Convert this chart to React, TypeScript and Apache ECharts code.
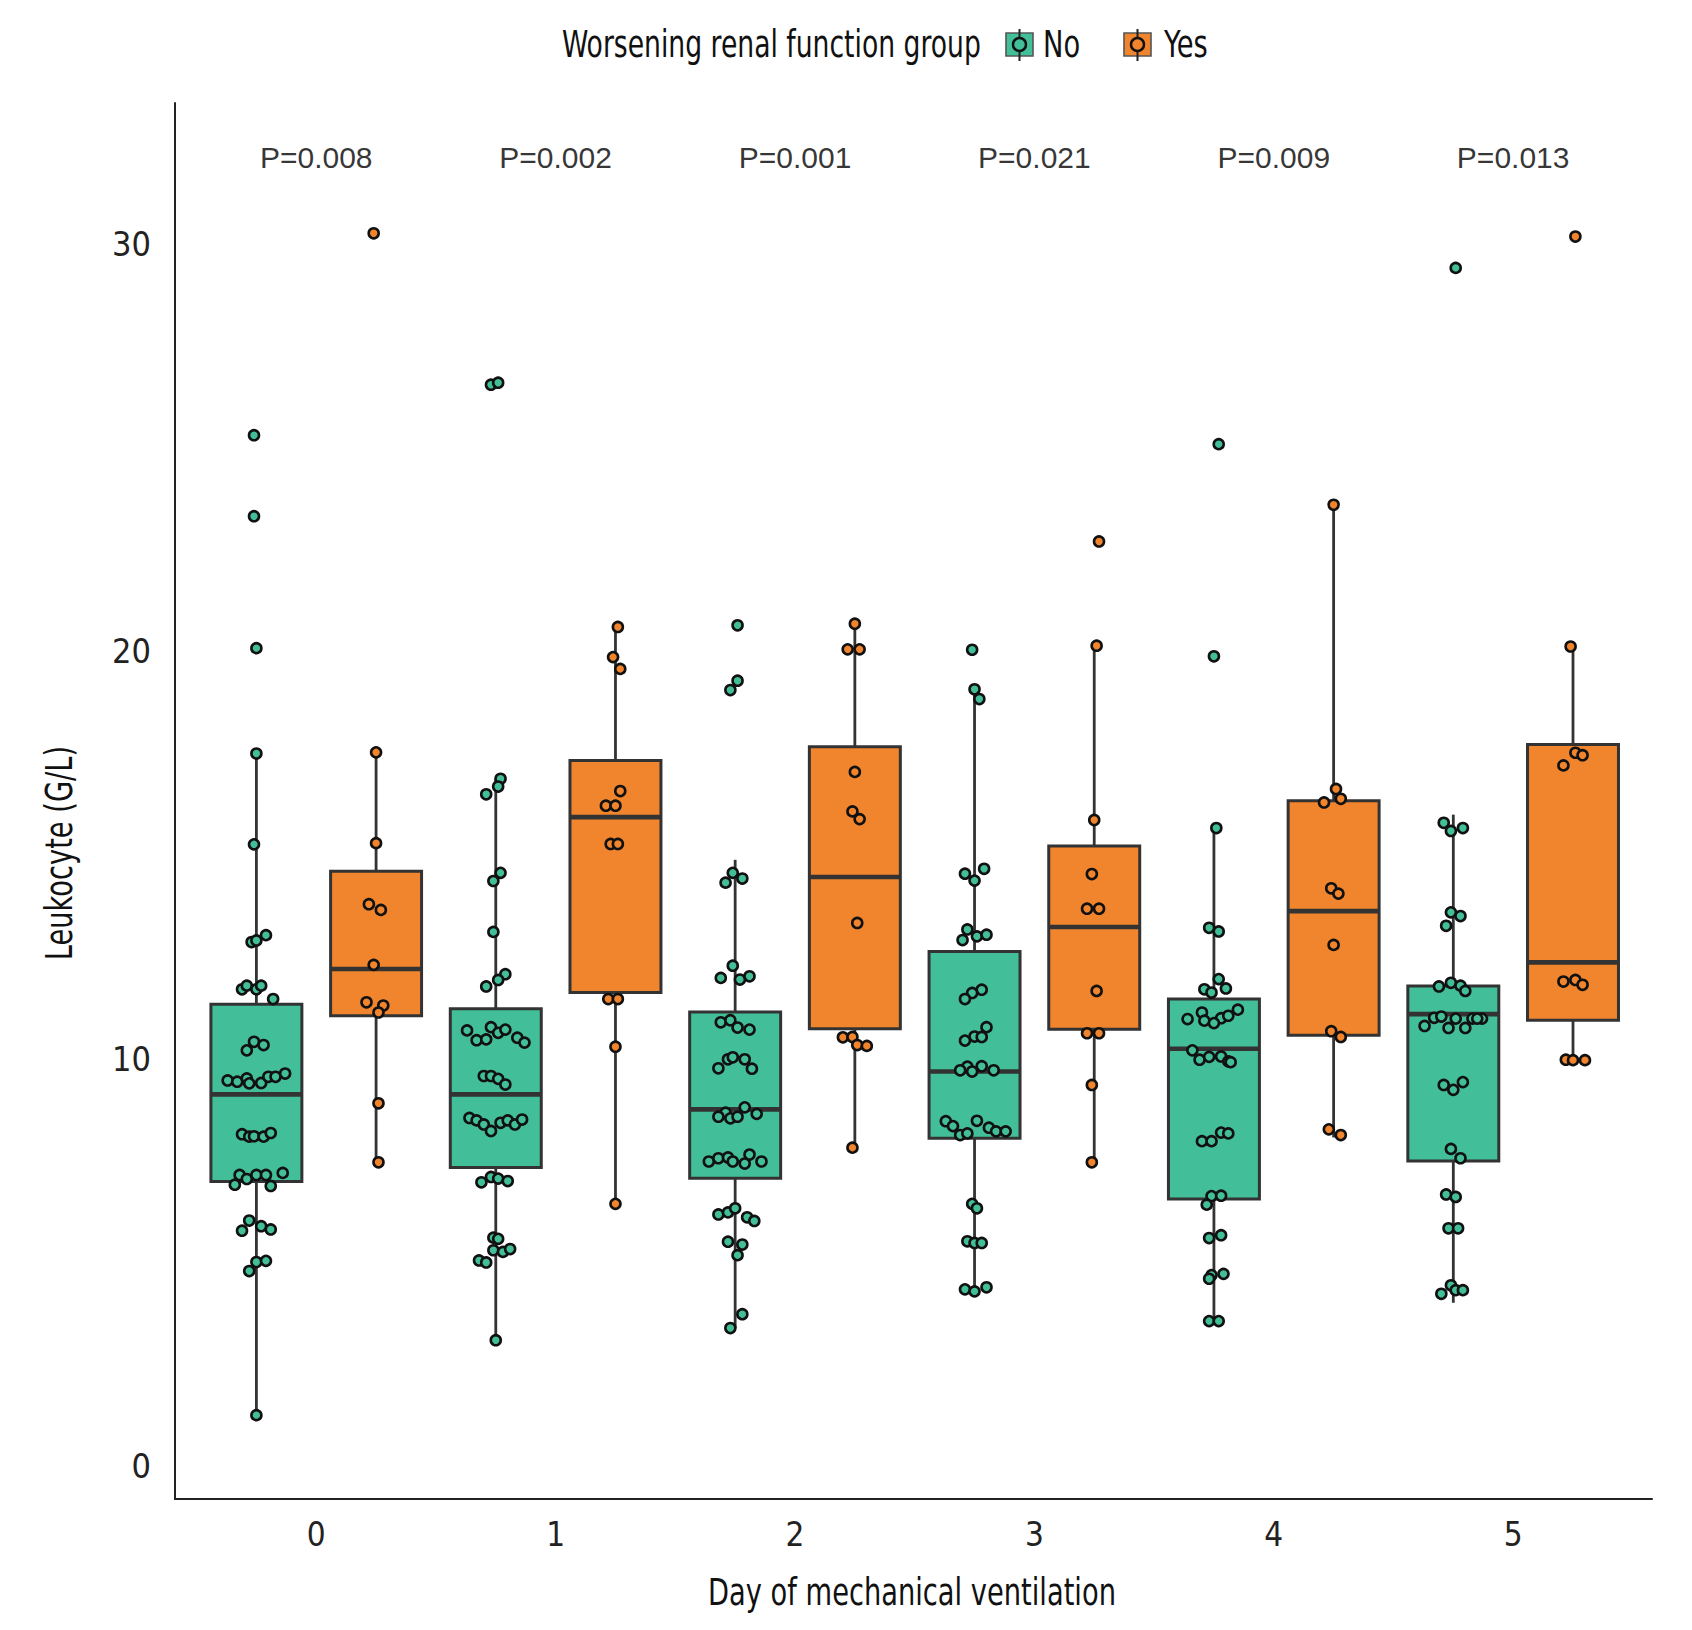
import React, { useEffect, useRef } from "react";
import * as echarts from "echarts";

const dayLabels = ["0", "1", "2", "3", "4", "5"];
const pValues = ["P=0.008", "P=0.002", "P=0.001", "P=0.021", "P=0.009", "P=0.013"];
const pLabelLevel = 32.12;

// [min, Q1, median, Q3, max] per day
const boxNo = [
  [1.24, 6.98, 9.12, 11.33, 17.49],
  [3.08, 7.32, 9.12, 11.22, 16.87],
  [3.38, 7.06, 8.75, 11.14, 14.88],
  [4.28, 8.04, 9.68, 12.63, 19.07],
  [3.5, 6.55, 10.24, 11.46, 15.66],
  [4.0, 7.48, 11.09, 11.78, 15.99],
];
const boxYes = [
  [7.45, 11.05, 12.2, 14.6, 17.52],
  [6.43, 11.62, 15.93, 17.32, 20.6],
  [7.81, 10.73, 14.46, 17.66, 20.68],
  [7.45, 10.72, 13.23, 15.22, 20.14],
  [8.06, 10.57, 13.62, 16.33, 23.6],
  [9.96, 10.94, 12.36, 17.71, 20.12],
];

// jittered observations: [jitter (category units), value]
const noDay0 = [
  [-0.01, 25.31], [-0.01, 23.32], [0.0, 20.08], [0, 17.49], [-0.01, 15.26],
  [-0.02, 12.86], [0, 12.9], [0.04, 13.03], [-0.06, 11.7], [-0.04, 11.79], [0, 11.7], [0.02, 11.79], [0.07, 11.46],
  [-0.04, 10.2], [-0.01, 10.41], [0.03, 10.33],
  [-0.12, 9.46], [-0.08, 9.43], [-0.04, 9.51], [-0.03, 9.39], [0.02, 9.4], [0.05, 9.55], [0.08, 9.55], [0.12, 9.63],
  [-0.06, 8.14], [-0.03, 8.08], [-0.01, 8.09], [0.03, 8.08], [0.06, 8.17],
  [-0.07, 7.14], [-0.04, 7.04], [0.0, 7.14], [0.04, 7.14], [0.11, 7.19], [-0.09, 6.9], [0.06, 6.87],
  [-0.03, 6.02], [-0.06, 5.77], [0.02, 5.88], [0.06, 5.8],
  [0.0, 5.0], [0.04, 5.03], [-0.03, 4.78], [0.0, 1.24],
];
const noDay1 = [
  [-0.02, 26.55], [0.01, 26.6],
  [0.02, 16.87], [0.01, 16.68], [-0.04, 16.49], [0.02, 14.56], [-0.01, 14.36], [-0.01, 13.11],
  [0.04, 12.07], [0.01, 11.93], [-0.04, 11.77],
  [-0.12, 10.69], [-0.08, 10.45], [-0.04, 10.47], [-0.02, 10.77], [0.01, 10.63], [0.04, 10.71], [0.09, 10.51], [0.12, 10.39],
  [-0.05, 9.57], [-0.02, 9.57], [0.01, 9.5], [0.04, 9.36],
  [-0.11, 8.54], [-0.08, 8.48], [-0.05, 8.38], [-0.02, 8.22], [0.02, 8.42], [0.05, 8.48], [0.08, 8.38], [0.11, 8.5],
  [-0.02, 7.09], [0.01, 7.05], [0.05, 6.99], [-0.06, 6.96],
  [-0.01, 5.6], [0.01, 5.57], [-0.01, 5.29], [0.03, 5.25], [0.06, 5.32], [-0.07, 5.04], [-0.04, 4.99],
  [0, 3.08],
];
const noDay2 = [
  [0.01, 20.64], [0.01, 19.28], [-0.02, 19.05],
  [-0.01, 14.56], [-0.04, 14.32], [0.03, 14.42],
  [-0.01, 12.28], [-0.06, 11.98], [0.02, 11.94], [0.06, 12.02],
  [-0.06, 10.89], [-0.02, 10.94], [0.01, 10.76], [0.06, 10.71],
  [-0.03, 9.98], [-0.01, 10.03], [0.04, 9.98], [-0.07, 9.76], [0.07, 9.75],
  [0.04, 8.8], [-0.04, 8.67], [-0.07, 8.57], [-0.02, 8.53], [0.01, 8.57], [0.09, 8.64],
  [-0.11, 7.47], [-0.07, 7.55], [-0.03, 7.57], [-0.01, 7.47], [0.04, 7.42], [0.06, 7.64], [0.11, 7.47],
  [-0.07, 6.17], [-0.03, 6.22], [0, 6.32], [0.05, 6.1], [0.08, 6.01],
  [-0.03, 5.5], [0.03, 5.43], [0.01, 5.17],
  [0.03, 3.72], [-0.02, 3.38],
];
const noDay3 = [
  [-0.01, 20.04], [0.0, 19.07], [0.02, 18.83],
  [-0.04, 14.54], [0.04, 14.66], [0, 14.37],
  [-0.03, 13.17], [0.01, 13.0], [0.05, 13.04], [-0.05, 12.91],
  [0.03, 11.69], [-0.01, 11.61], [-0.04, 11.46],
  [0.05, 10.77], [0.0, 10.54], [0.03, 10.53], [-0.04, 10.44],
  [-0.03, 9.8], [0.03, 9.81], [-0.06, 9.71], [-0.01, 9.68], [0.08, 9.71],
  [-0.12, 8.46], [-0.09, 8.34], [0.01, 8.47], [-0.06, 8.12], [-0.03, 8.16], [0.06, 8.3], [0.09, 8.21], [0.13, 8.21],
  [-0.01, 6.43], [0.01, 6.32],
  [-0.03, 5.51], [0.0, 5.47], [0.03, 5.47],
  [-0.04, 4.33], [0, 4.28], [0.05, 4.38],
];
const noDay4 = [
  [0.02, 25.09], [0, 19.88], [0.01, 15.66],
  [-0.02, 13.21], [0.02, 13.12],
  [0.02, 11.95], [-0.04, 11.7], [-0.01, 11.62], [0.05, 11.72],
  [0.1, 11.2], [-0.05, 11.13], [-0.11, 10.97], [-0.04, 10.93], [0.03, 10.99], [0, 10.87], [0.06, 11.05],
  [-0.09, 10.2], [-0.06, 9.97], [-0.02, 10.04], [0.03, 10.05], [0.06, 9.93], [0.07, 9.91],
  [0.03, 8.18], [0.06, 8.16], [-0.05, 7.97], [-0.01, 7.97],
  [-0.01, 6.62], [0.03, 6.63], [-0.03, 6.41],
  [0.03, 5.66], [-0.02, 5.59],
  [-0.01, 4.68], [0.04, 4.71], [-0.02, 4.59],
  [-0.02, 3.55], [0.02, 3.55],
];
const noDay5 = [
  [0.01, 29.42],
  [-0.04, 15.79], [-0.01, 15.59], [0.04, 15.66],
  [-0.01, 13.59], [0.03, 13.5], [-0.03, 13.26],
  [-0.01, 11.86], [-0.06, 11.77], [0.03, 11.79], [0.05, 11.66],
  [-0.08, 11.0], [-0.05, 11.03], [0.01, 10.98], [0.08, 10.98], [0.12, 10.98], [-0.12, 10.8], [-0.02, 10.75], [0.05, 10.75], [0.1, 10.98],
  [-0.04, 9.35], [0, 9.23], [0.04, 9.42],
  [-0.01, 7.78], [0.03, 7.55],
  [-0.03, 6.66], [0.01, 6.6],
  [-0.02, 5.83], [0.02, 5.83],
  [-0.01, 4.43], [0.01, 4.31], [0.04, 4.31], [-0.05, 4.22],
];
const yesDay0 = [
  [-0.01, 30.27], [0, 17.52], [0, 15.29], [-0.03, 13.79], [0.02, 13.65], [-0.01, 12.3],
  [-0.04, 11.38], [0.03, 11.3], [0.01, 11.13], [0.01, 8.9], [0.01, 7.45],
];
const yesDay1 = [
  [0.01, 20.6], [-0.01, 19.86], [0.02, 19.57], [0.02, 16.57], [-0.04, 16.21], [0, 16.21],
  [-0.02, 15.27], [0.01, 15.27], [-0.03, 11.46], [0.01, 11.46], [0, 10.29], [0, 6.43],
];
const yesDay2 = [
  [0, 20.68], [-0.03, 20.05], [0.02, 20.05], [0, 17.04], [-0.01, 16.07], [0.02, 15.88],
  [0.01, 13.33], [-0.05, 10.52], [-0.01, 10.53], [0.01, 10.33], [0.05, 10.31], [-0.01, 7.81],
];
const yesDay3 = [
  [0.02, 22.7], [0.01, 20.14], [0, 15.86], [-0.01, 14.53], [-0.03, 13.68], [0.02, 13.68],
  [0.01, 11.66], [-0.03, 10.62], [0.02, 10.62], [-0.01, 9.35], [-0.01, 7.45],
];
const yesDay4 = [
  [0, 23.6], [0.01, 16.62], [-0.04, 16.29], [0.03, 16.38], [-0.01, 14.18], [0.02, 14.05],
  [0, 12.79], [-0.01, 10.67], [0.03, 10.53], [-0.02, 8.26], [0.03, 8.12],
];
const yesDay5 = [
  [0.01, 30.19], [-0.01, 20.12], [0.01, 17.51], [0.04, 17.45], [-0.04, 17.2],
  [-0.04, 11.89], [0.01, 11.93], [0.04, 11.81], [-0.03, 9.97], [0, 9.96], [0.05, 9.96],
];

const noPoints = [noDay0, noDay1, noDay2, noDay3, noDay4, noDay5];
const yesPoints = [yesDay0, yesDay1, yesDay2, yesDay3, yesDay4, yesDay5];

const GREEN = "#42BF98";
const ORANGE = "#F1852D";
const DARK = "#333333";
const NARROW = "'Liberation Sans Narrow', 'DejaVu Sans Condensed', 'Noto Sans', sans-serif";
const REGULAR = "'Liberation Sans', Arial, 'Noto Sans', sans-serif";
const SQUEEZE = 0.82;

const DODGE = 0.25;
const HALF_BOX = 0.19;

function boxRenderer(color: string) {
  return (params: any, api: any) => {
    const x = api.value(0);
    const mn = api.value(1);
    const q1 = api.value(2);
    const md = api.value(3);
    const q3 = api.value(4);
    const mx = api.value(5);
    const pTL = api.coord([x - HALF_BOX, q3]);
    const pBR = api.coord([x + HALF_BOX, q1]);
    const pMin = api.coord([x, mn]);
    const pMax = api.coord([x, mx]);
    const pMedL = api.coord([x - HALF_BOX, md]);
    const pMedR = api.coord([x + HALF_BOX, md]);
    const lineStyle = { stroke: DARK, lineWidth: 2.8 };
    return {
      type: "group",
      children: [
        { type: "line", shape: { x1: pMax[0], y1: pMax[1], x2: pMax[0], y2: pTL[1] }, style: lineStyle },
        { type: "line", shape: { x1: pMin[0], y1: pBR[1], x2: pMin[0], y2: pMin[1] }, style: lineStyle },
        {
          type: "rect",
          shape: { x: pTL[0], y: pTL[1], width: pBR[0] - pTL[0], height: pBR[1] - pTL[1] },
          style: { fill: color, stroke: DARK, lineWidth: 3 },
        },
        { type: "line", shape: { x1: pMedL[0], y1: pMedL[1], x2: pMedR[0], y2: pMedR[1] }, style: { stroke: DARK, lineWidth: 4.6 } },
      ],
    };
  };
}

function legendKey(x: number, color: string) {
  return {
    type: "group",
    children: [
      { type: "rect", shape: { x, y: 33, width: 27, height: 23 }, style: { fill: color, stroke: "#555", lineWidth: 1.6 } },
      { type: "line", shape: { x1: x + 13.5, y1: 29, x2: x + 13.5, y2: 61 }, style: { stroke: "#222", lineWidth: 2 } },
      { type: "circle", shape: { cx: x + 13.5, cy: 44.5, r: 6.5 }, style: { fill: color, stroke: "#111", lineWidth: 2.4 } },
    ],
  };
}

function narrowText(text: string, x: number, y: number, size: number, align: string, rotation = 0, squeeze = SQUEEZE) {
  return {
    type: "text",
    x,
    y,
    rotation,
    scaleX: squeeze,
    style: { text, fontFamily: NARROW, fontSize: size, fill: "#111", align, verticalAlign: "middle" },
  };
}

export default function App() {
  const ref = useRef<HTMLDivElement>(null);
  useEffect(() => {
    if (!ref.current) return;
    const chart = echarts.init(ref.current, undefined, { renderer: "svg" });

    const boxDataNo = boxNo.map((b, d) => [d - DODGE, ...b]);
    const boxDataYes = boxYes.map((b, d) => [d + DODGE, ...b]);
    const ptsNo = noPoints.flatMap((pts, d) => pts.map(([j, v]) => [d - DODGE + j, v]));
    const ptsYes = yesPoints.flatMap((pts, d) => pts.map(([j, v]) => [d + DODGE + j, v]));
    const pData = pValues.map((_, d) => [d, pLabelLevel]);

    chart.setOption({
      animation: false,
      backgroundColor: "#ffffff",
      grid: { left: 175, right: 40, top: 103, bottom: 131, containLabel: false },
      xAxis: {
        type: "value",
        min: -0.59,
        max: 5.58,
        axisLine: { show: true, onZero: false, lineStyle: { color: "#222", width: 2 } },
        axisTick: { show: false },
        splitLine: { show: false },
        axisLabel: {
          customValues: [0, 1, 2, 3, 4, 5],
          formatter: (v: number) => dayLabels[Math.round(v)],
          fontFamily: NARROW,
          fontSize: 33,
          color: "#222",
          margin: 19,
        },
      },
      yAxis: {
        type: "value",
        min: -0.82,
        max: 33.47,
        axisLine: { show: true, onZero: false, lineStyle: { color: "#222", width: 2 } },
        axisTick: { show: false },
        splitLine: { show: false },
        axisLabel: {
          customValues: [0, 10, 20, 30],
          formatter: (v: number) => String(Math.round(v)),
          fontFamily: NARROW,
          fontSize: 34,
          color: "#222",
          margin: 24,
        },
      },
      graphic: [
        narrowText("Worsening renal function group", 562, 44, 37, "left", 0, 0.8),
        legendKey(1006, GREEN),
        narrowText("No", 1043, 44, 37, "left"),
        legendKey(1124, ORANGE),
        narrowText("Yes", 1164, 44, 37, "left"),
        narrowText("Leukocyte (G/L)", 59, 853, 37, "center", Math.PI / 2),
        narrowText("Day of mechanical ventilation", 912, 1592, 37, "center"),
      ],
      series: [
        {
          type: "custom",
          name: "No",
          renderItem: boxRenderer(GREEN),
          data: boxDataNo,
          encode: { x: 0, y: [1, 2, 3, 4, 5] },
          z: 2,
          silent: true,
        },
        {
          type: "custom",
          name: "Yes",
          renderItem: boxRenderer(ORANGE),
          data: boxDataYes,
          encode: { x: 0, y: [1, 2, 3, 4, 5] },
          z: 2,
          silent: true,
        },
        {
          type: "scatter",
          name: "No points",
          data: ptsNo,
          symbol: "circle",
          symbolSize: 10,
          itemStyle: { color: GREEN, borderColor: "#111", borderWidth: 2.6, opacity: 1 },
          z: 5,
          silent: true,
        },
        {
          type: "scatter",
          name: "Yes points",
          data: ptsYes,
          symbol: "circle",
          symbolSize: 10,
          itemStyle: { color: ORANGE, borderColor: "#111", borderWidth: 2.6, opacity: 1 },
          z: 5,
          silent: true,
        },
        {
          type: "scatter",
          name: "P values",
          data: pData,
          symbolSize: 0,
          silent: true,
          label: {
            show: true,
            position: "inside",
            formatter: (p: any) => pValues[p.dataIndex],
            fontFamily: REGULAR,
            fontSize: 30,
            color: "#000",
          },
        },
      ],
    });
    return () => chart.dispose();
  }, []);

  return (
    <div
      ref={ref}
      style={{ position: "absolute", left: 0, top: 0, width: 1692, height: 1630, background: "#fff" }}
    />
  );
}
